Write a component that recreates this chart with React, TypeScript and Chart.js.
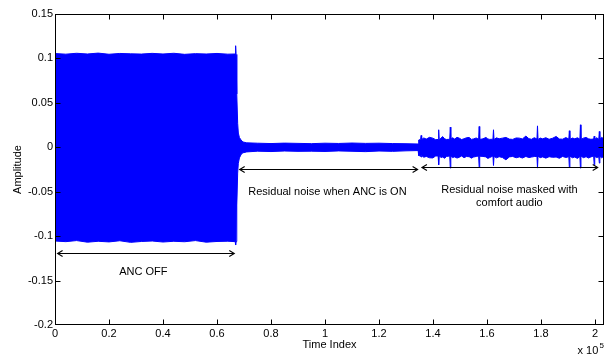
import React, { useEffect, useRef } from "react";
import { Chart, registerables } from "chart.js";

Chart.register(...registerables);

// ---- data (time index in units of 1e5, amplitude) ----
const sampleIndex = [
  0, 0.04, 0.08, 0.12, 0.16, 0.2, 0.24, 0.28, 0.32, 0.36, 0.4, 0.44, 0.48, 0.52, 0.56, 0.6, 0.64,
  0.6675, 0.669, 0.6705, 0.6726, 0.6738, 0.6765, 0.679, 0.683, 0.689, 0.696, 0.71,
  0.75, 0.8, 0.85, 0.9, 0.95, 1.0, 1.05, 1.1, 1.15, 1.2, 1.25, 1.3, 1.345,
  1.347, 1.354, 1.356, 1.358, 1.366, 1.375, 1.387, 1.399, 1.41, 1.419, 1.421, 1.423, 1.429, 1.436, 1.443, 1.45,
  1.462, 1.464, 1.466, 1.472, 1.48, 1.489, 1.497, 1.506, 1.515, 1.524, 1.534, 1.542, 1.55, 1.56, 1.569, 1.571, 1.573, 1.585,
  1.596, 1.603, 1.61, 1.622, 1.624, 1.626, 1.635, 1.645, 1.657, 1.67, 1.683, 1.695, 1.708, 1.72, 1.731, 1.744, 1.755, 1.765, 1.775,
  1.785, 1.787, 1.789, 1.797, 1.806, 1.818, 1.83, 1.843, 1.856, 1.868, 1.88, 1.892, 1.903, 1.905, 1.907, 1.916, 1.925, 1.935,
  1.944, 1.946, 1.948, 1.957, 1.967, 1.976, 1.985, 1.995, 1.997, 1.999, 2.006, 2.014, 2.016, 2.018, 2.025, 2.0333,
];

const upperEnvelope = [
  0.1055, 0.1048, 0.1058, 0.105, 0.106, 0.1047, 0.1056, 0.1052, 0.1049, 0.1057, 0.105, 0.1058, 0.1046, 0.1054, 0.105, 0.1056, 0.1048,
  0.105, 0.1143, 0.1045, 0.104, 0.06, 0.027, 0.016, 0.011, 0.0082, 0.006, 0.005,
  0.0046, 0.0042, 0.0047, 0.0044, 0.0041, 0.0046, 0.0043, 0.0048, 0.0044, 0.0046, 0.0042, 0.004, 0.0037,
  0.0082, 0.0088, 0.0133, 0.0088, 0.0105, 0.0092, 0.0112, 0.0103, 0.0086, 0.0088, 0.0197, 0.0085, 0.0102, 0.012, 0.0095, 0.0088,
  0.009, 0.0227, 0.0088, 0.0108, 0.0092, 0.0112, 0.0103, 0.0087, 0.0096, 0.0107, 0.0111, 0.0089, 0.0094, 0.0105, 0.009, 0.0234, 0.0088, 0.0095,
  0.0111, 0.0094, 0.0089, 0.0091, 0.0197, 0.0088, 0.0106, 0.0096, 0.0103, 0.0111, 0.0092, 0.0089, 0.0105, 0.0103, 0.0094, 0.0126, 0.0097, 0.009, 0.0108,
  0.0093, 0.0241, 0.0088, 0.0104, 0.0095, 0.0108, 0.009, 0.0102, 0.0122, 0.0093, 0.0091, 0.0109, 0.0093, 0.0186, 0.0088, 0.0104, 0.0096, 0.0107,
  0.0091, 0.0253, 0.0088, 0.0103, 0.0111, 0.0095, 0.009, 0.0093, 0.0125, 0.0088, 0.0107, 0.009, 0.0178, 0.0088, 0.0112, 0.009,
];

const lowerEnvelope = [
  -0.1055, -0.1062, -0.105, -0.1068, -0.1058, -0.1065, -0.1052, -0.107, -0.106, -0.1055, -0.1066, -0.1058, -0.1063, -0.105, -0.1068, -0.106, -0.1057,
  -0.1062, -0.11, -0.106, -0.106, -0.065, -0.029, -0.018, -0.012, -0.0082, -0.0062, -0.0052,
  -0.0044, -0.0048, -0.0042, -0.0046, -0.0044, -0.0047, -0.0041, -0.0045, -0.0049, -0.0042, -0.0046, -0.004, -0.0037,
  -0.0093, -0.0098, -0.011, -0.0093, -0.0112, -0.0103, -0.0118, -0.012, -0.0098, -0.0098, -0.0197, -0.0096, -0.0115, -0.011, -0.0124, -0.0103,
  -0.0098, -0.0234, -0.01, -0.0116, -0.0108, -0.0121, -0.0113, -0.0098, -0.0117, -0.0104, -0.0106, -0.0122, -0.011, -0.0103, -0.0098, -0.0227, -0.01, -0.0103,
  -0.0108, -0.0125, -0.0116, -0.0098, -0.0205, -0.0103, -0.0119, -0.0106, -0.0115, -0.0141, -0.0108, -0.0103, -0.0118, -0.0108, -0.0121, -0.0103, -0.0116, -0.011, -0.0104,
  -0.0103, -0.0234, -0.01, -0.0117, -0.0108, -0.0122, -0.0106, -0.0113, -0.011, -0.0124, -0.0103, -0.0115, -0.0106, -0.0227, -0.0098, -0.0118, -0.011, -0.0125,
  -0.0103, -0.0234, -0.0098, -0.0117, -0.0106, -0.0121, -0.0108, -0.0098, -0.0197, -0.0103, -0.0116, -0.0108, -0.0178, -0.0103, -0.0119, -0.0098,
];

const xTicks = [0, 0.2, 0.4, 0.6, 0.8, 1.0, 1.2, 1.4, 1.6, 1.8, 2.0];
const yTicks = [-0.2, -0.15, -0.1, -0.05, 0, 0.05, 0.1, 0.15];
const xRange = [0, 2.0333];
const yRange = [-0.2, 0.15];

// double-headed arrows
const arrowStarts = [0.0096, 0.684, 1.359];
const arrowEnds = [0.664, 1.343, 2.01];
const arrowLevels = [-0.1192, -0.025, -0.0223];

// annotation texts
const noteTexts = ["ANC OFF", "Residual noise when ANC is ON", "Residual noise masked with", "comfort audio"];
const noteX = [0.327, 1.009, 1.683, 1.683];
const noteY = [-0.14, -0.0498, -0.0479, -0.0622];

const FONT_FAMILY = "'Liberation Sans', Arial, Helvetica, sans-serif";

const matlabAxesPlugin = {
  id: "matlabAxes",
  afterDraw(chart: any) {
    const { ctx, chartArea: a, scales } = chart;
    const xs = scales.x;
    const ys = scales.y;
    ctx.save();
    ctx.strokeStyle = "#000";
    ctx.fillStyle = "#000";
    ctx.lineWidth = 1;
    const L = Math.round(a.left) + 0.5;
    const R = Math.round(a.right) - 0.5;
    const T = Math.round(a.top) + 0.5;
    const B = Math.round(a.bottom) - 0.5;
    ctx.strokeRect(L, T, R - L, B - T);
    const tl = 5;
    ctx.beginPath();
    xTicks.forEach((v) => {
      const p = Math.round(xs.getPixelForValue(v)) + 0.5;
      if (p <= L + 1 || p >= R - 1) return;
      ctx.moveTo(p, B);
      ctx.lineTo(p, B - tl);
      ctx.moveTo(p, T);
      ctx.lineTo(p, T + tl);
    });
    yTicks.forEach((v) => {
      const p = Math.round(ys.getPixelForValue(v)) + 0.5;
      if (p <= T + 1 || p >= B - 1) return;
      ctx.moveTo(L, p);
      ctx.lineTo(L + tl, p);
      ctx.moveTo(R, p);
      ctx.lineTo(R - tl, p);
    });
    ctx.stroke();

    // arrows
    ctx.lineWidth = 1.1;
    arrowStarts.forEach((s, i) => {
      const x1 = xs.getPixelForValue(s);
      const x2 = xs.getPixelForValue(arrowEnds[i]);
      const y = Math.round(ys.getPixelForValue(arrowLevels[i])) + 0.5;
      ctx.beginPath();
      ctx.moveTo(x1, y);
      ctx.lineTo(x2, y);
      ctx.moveTo(x1 + 5, y - 3);
      ctx.lineTo(x1, y);
      ctx.lineTo(x1 + 5, y + 3);
      ctx.moveTo(x2 - 5, y - 3);
      ctx.lineTo(x2, y);
      ctx.lineTo(x2 - 5, y + 3);
      ctx.stroke();
    });

    // notes
    ctx.font = `11px ${FONT_FAMILY}`;
    ctx.textAlign = "center";
    ctx.textBaseline = "middle";
    noteTexts.forEach((t, i) => {
      ctx.fillText(t, xs.getPixelForValue(noteX[i]), ys.getPixelForValue(noteY[i]));
    });

    // exponent label
    ctx.textAlign = "left";
    ctx.fillText("x 10", 577.5, 351);
    ctx.font = `8px ${FONT_FAMILY}`;
    ctx.fillText("5", 599.5, 346);
    ctx.restore();
  },
};

export default function App() {
  const canvasRef = useRef<HTMLCanvasElement | null>(null);

  useEffect(() => {
    const canvas = canvasRef.current;
    if (!canvas) return;
    const upper = sampleIndex.map((x, i) => ({ x, y: upperEnvelope[i] }));
    const lower = sampleIndex.map((x, i) => ({ x, y: lowerEnvelope[i] }));
    const chart = new Chart(canvas, {
      type: "line",
      data: {
        datasets: [
          {
            data: upper,
            borderColor: "#0000ff",
            backgroundColor: "#0000ff",
            borderWidth: 1,
            pointRadius: 0,
            tension: 0,
            fill: "+1",
          },
          {
            data: lower,
            borderColor: "#0000ff",
            backgroundColor: "#0000ff",
            borderWidth: 1,
            pointRadius: 0,
            tension: 0,
            fill: false,
          },
        ],
      },
      options: {
        responsive: false,
        animation: false,
        events: [],
        layout: { padding: { top: 14, right: 5, left: 0, bottom: 0 } },
        plugins: { legend: { display: false }, tooltip: { enabled: false } },
        scales: {
          x: {
            type: "linear",
            min: xRange[0],
            max: xRange[1],
            grid: { display: false, drawTicks: false },
            border: { display: false },
            afterBuildTicks: (axis: any) => {
              axis.ticks = xTicks.map((v) => ({ value: v }));
            },
            afterFit: (axis: any) => {
              axis.height = 29;
            },
            ticks: {
              autoSkip: false,
              maxRotation: 0,
              padding: 2,
              color: "#000",
              font: { family: FONT_FAMILY, size: 11 },
              callback: (v: any) => String(Math.round(Number(v) * 10) / 10),
            },
            title: {
              display: true,
              text: "Time Index",
              color: "#000",
              font: { family: FONT_FAMILY, size: 11 },
              padding: { top: 0, bottom: 2.4 },
            },
          },
          y: {
            type: "linear",
            min: yRange[0],
            max: yRange[1],
            grid: { display: false, drawTicks: false },
            border: { display: false },
            afterBuildTicks: (axis: any) => {
              axis.ticks = yTicks.map((v) => ({ value: v }));
            },
            afterFit: (axis: any) => {
              axis.width = 55;
            },
            ticks: {
              autoSkip: false,
              padding: 2,
              color: "#000",
              font: { family: FONT_FAMILY, size: 11 },
              callback: (v: any) => String(Math.round(Number(v) * 100) / 100),
            },
            title: {
              display: true,
              text: "Amplitude",
              color: "#000",
              font: { family: FONT_FAMILY, size: 11 },
              padding: { top: 11.4, bottom: 0 },
            },
          },
        },
      },
      plugins: [matlabAxesPlugin],
    } as any);
    return () => chart.destroy();
  }, []);

  return (
    <div style={{ position: "fixed", left: 0, top: 0, width: 609, height: 354, background: "#fff" }}>
      <canvas ref={canvasRef} width={609} height={354} style={{ display: "block" }} />
    </div>
  );
}
